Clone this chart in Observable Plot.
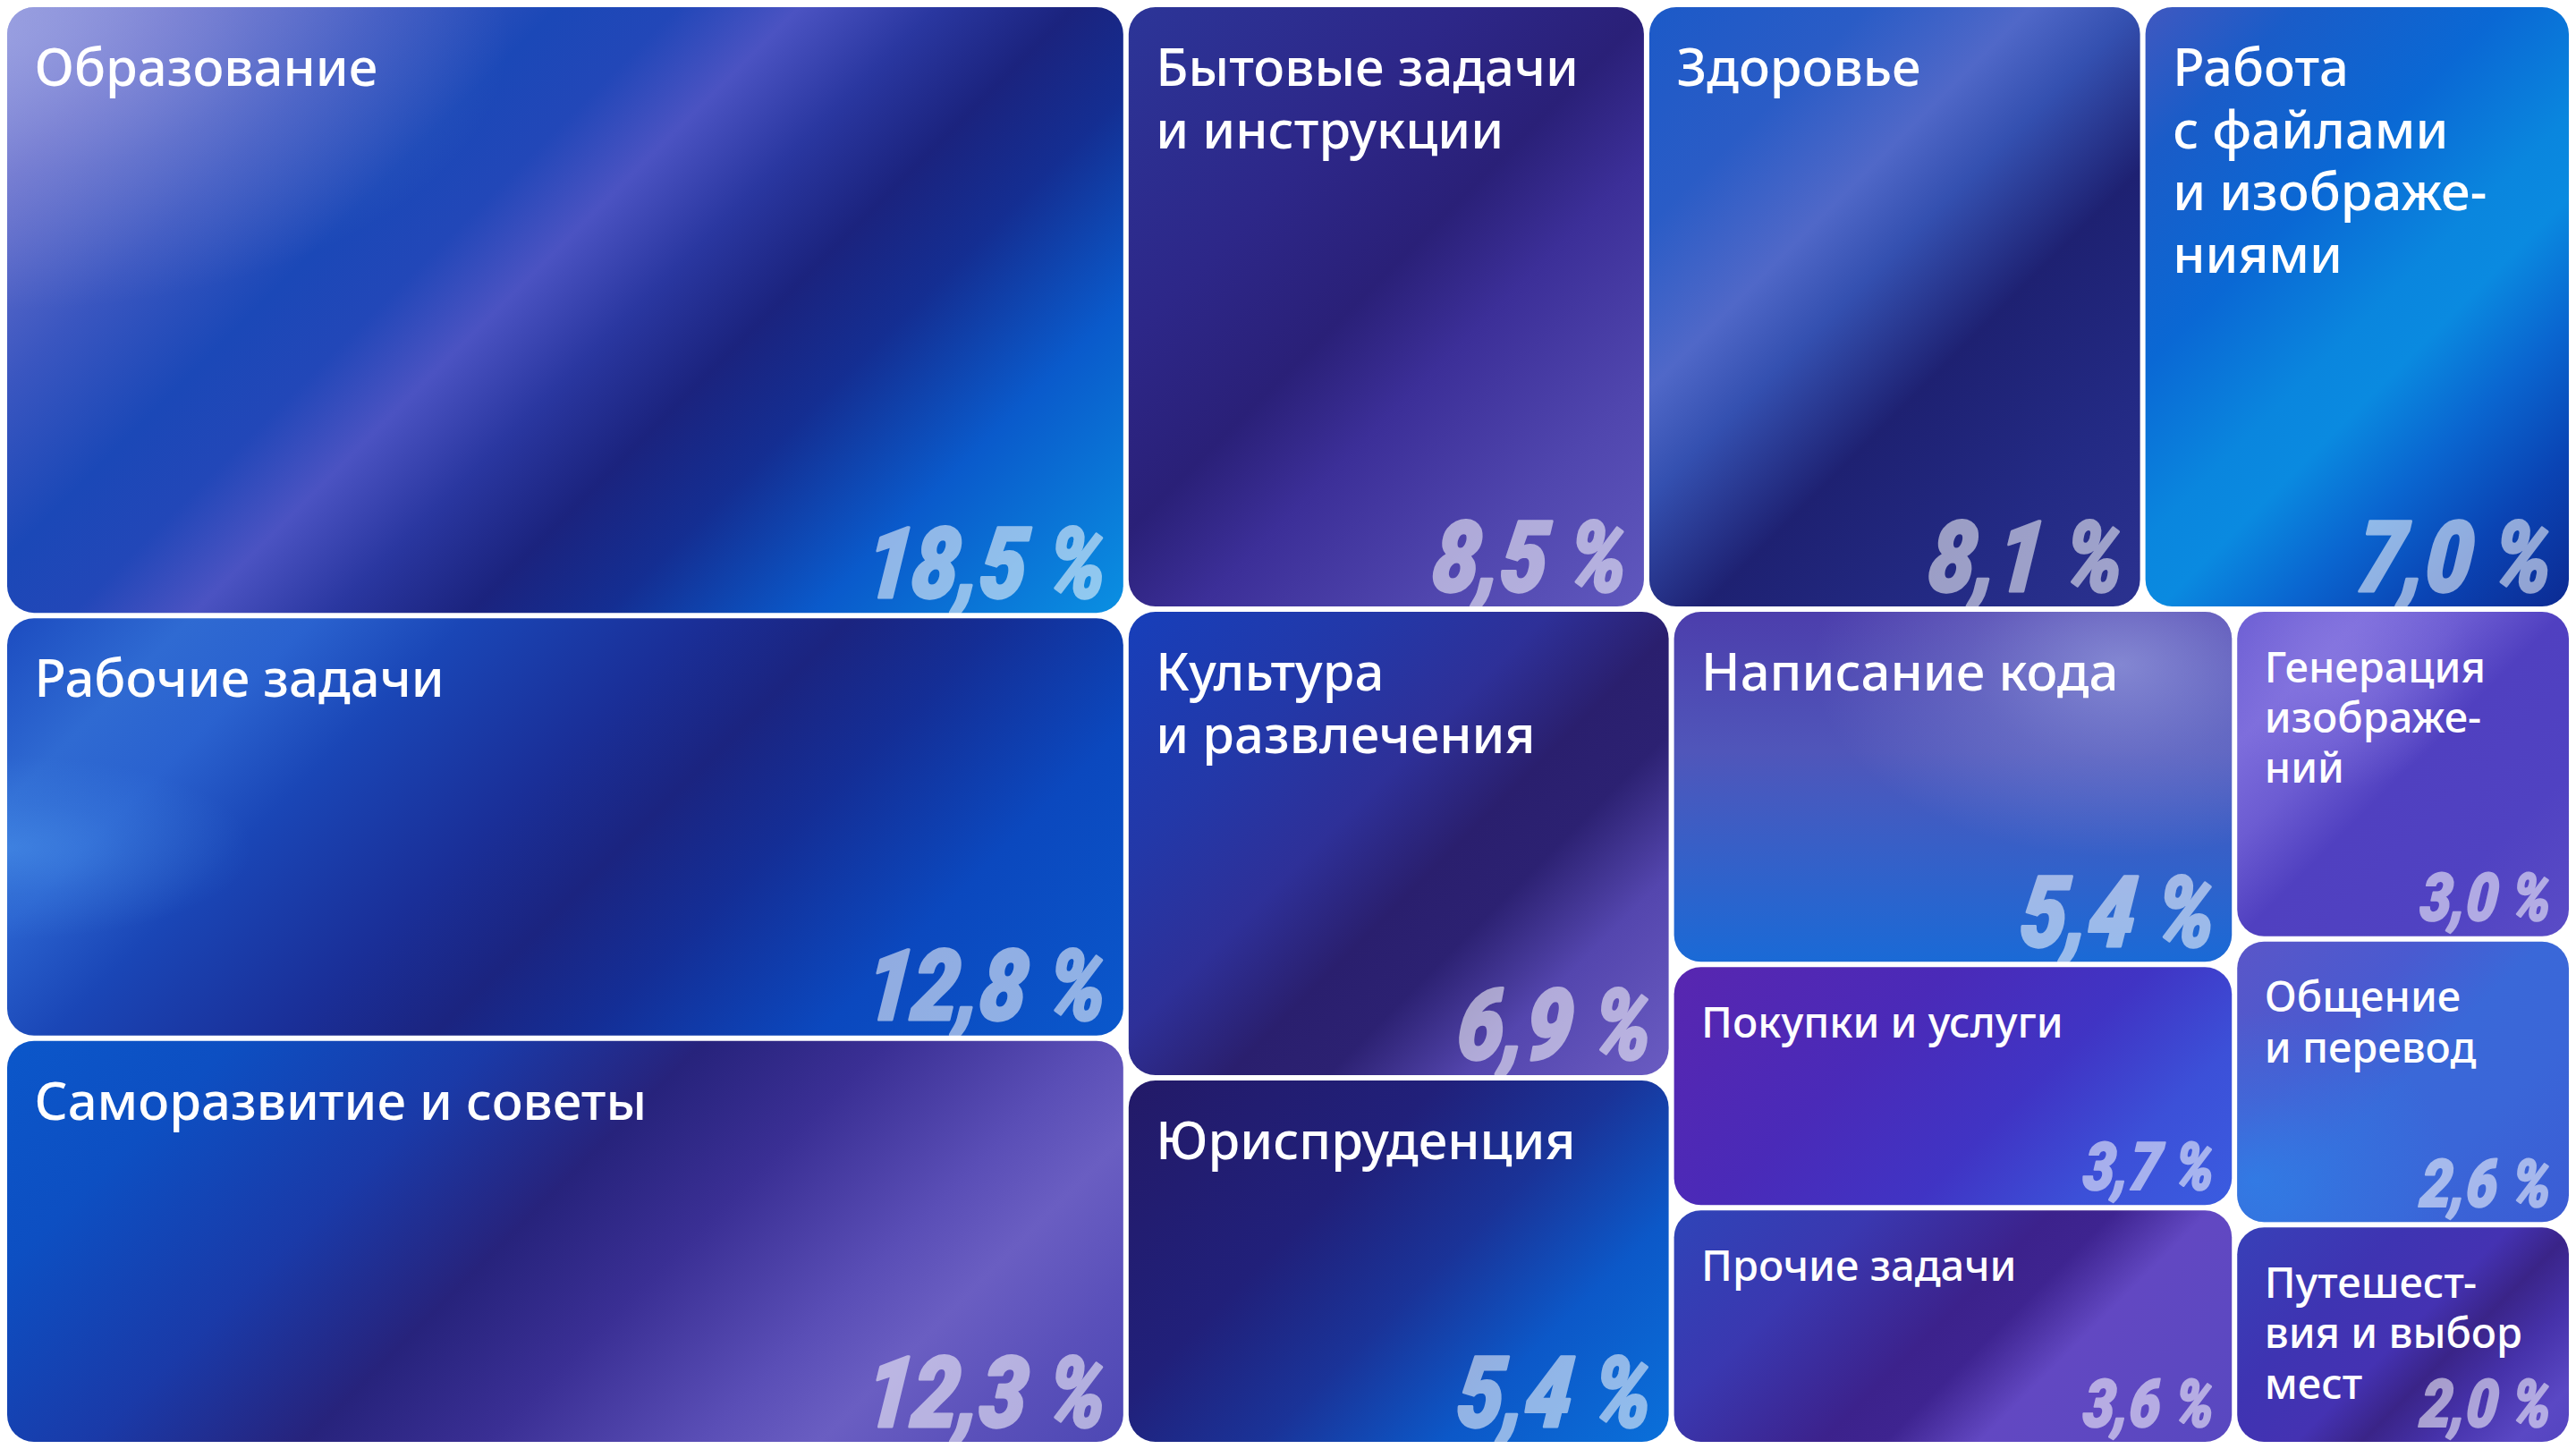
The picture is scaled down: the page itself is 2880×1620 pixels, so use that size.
<!DOCTYPE html>
<html>
<head>
<meta charset="utf-8">
<script src="https://cdn.jsdelivr.net/npm/d3@7"></script>
<script src="https://cdn.jsdelivr.net/npm/@observablehq/plot@0.6"></script>
<style>
html, body { margin: 0; padding: 0; background: #ffffff; }
#chart svg { display: block; }
</style>
</head>
<body>
<div id="chart"></div>
<script>
// ---------- DATA ----------
const categories = [
  "Образование", "Рабочие задачи", "Саморазвитие и советы",
  "Бытовые задачи и инструкции", "Здоровье", "Работа с файлами и изображениями",
  "Культура и развлечения", "Юриспруденция",
  "Написание кода", "Покупки и услуги", "Прочие задачи",
  "Генерация изображений", "Общение и перевод", "Путешествия и выбор мест"
];
const titles = [
  "Образование", "Рабочие задачи", "Саморазвитие и советы",
  "Бытовые задачи\nи инструкции", "Здоровье", "Работа\nс файлами\nи изображе-\nниями",
  "Культура\nи развлечения", "Юриспруденция",
  "Написание кода", "Покупки и услуги", "Прочие задачи",
  "Генерация\nизображе-\nний", "Общение\nи перевод", "Путешест-\nвия и выбор\nмест"
];
const shares = [18.5, 12.8, 12.3, 8.5, 8.1, 7.0, 6.9, 5.4, 5.4, 3.7, 3.6, 3.0, 2.6, 2.0];
// grouping of the tiles (hierarchy of the treemap)
const blocks = ["A", "A", "A", "B1", "B1", "B1", "B2a", "B2a", "B2b", "B2b", "B2b", "B2c", "B2c", "B2c"];
const blockParents = [["A", "root"], ["B", "root"], ["B1", "B"], ["B2", "B"], ["B2a", "B2"], ["B2b", "B2"], ["B2c", "B2"]];

// ---------- STYLES (gradients per tile) ----------
const tileStyles = [
  { stops: [[0, "#8e94da"], [0.1, "#6870cc"], [0.22, "#3a56c0"], [0.32, "#1b48b7"], [0.39, "#2247b8"], [0.46, "#4b53c2"], [0.54, "#2a37a0"], [0.62, "#1b237e"], [0.7, "#142e92"], [0.82, "#0a5acb"], [1, "#0a90e2"]],
    glow: { cx: 0.0, cy: 0.05, r: 0.45, c: "#a0a6e4", o: 0.65 } },
  { stops: [[0, "#1c4cc0"], [0.12, "#2f6ad2"], [0.2, "#2a62cf"], [0.3, "#1a46b6"], [0.45, "#1a2f98"], [0.55, "#1b2480"], [0.65, "#142e96"], [0.8, "#0b48be"], [1, "#0a58cc"]],
    glow: { cx: 0.0, cy: 0.55, r: 0.22, c: "#4a92ea", o: 0.6 } },
  { stops: [[0, "#0b57ca"], [0.15, "#0d4fc2"], [0.32, "#1a3aa8"], [0.46, "#27237c"], [0.58, "#3a2f94"], [0.72, "#5a4eb6"], [0.8, "#6a5ec2"], [0.9, "#5a50ba"], [1, "#4d48b4"]] },
  { stops: [[0, "#2c3598"], [0.3, "#2d2788"], [0.47, "#2a2078"], [0.6, "#3c2f98"], [0.8, "#5046ae"], [1, "#6058be"]] },
  { stops: [[0, "#1c5ac8"], [0.2, "#2a5cc6"], [0.35, "#5068c8"], [0.45, "#3450b0"], [0.6, "#1e2172"], [0.8, "#232a84"], [1, "#2b3290"]] },
  { stops: [[0, "#4058c0"], [0.15, "#1a5cc8"], [0.35, "#0a68d4"], [0.52, "#0a86de"], [0.6, "#0a8ae0"], [0.72, "#0a66d0"], [0.85, "#0a44b4"], [1, "#0c2a92"]] },
  { stops: [[0, "#173fba"], [0.25, "#2338a8"], [0.42, "#2e3098"], [0.56, "#2a1f6e"], [0.66, "#2c2172"], [0.8, "#5446ae"], [1, "#6a5cc2"]] },
  { stops: [[0, "#231a68"], [0.35, "#21207a"], [0.55, "#1a3398"], [0.75, "#0c58c8"], [1, "#0a70da"]] },
  { vec: [0, 1], stops: [[0, "#4c3eac"], [0.4, "#5056ba"], [0.7, "#3560c8"], [1, "#1a6ad6"]],
    glow: { cx: 0.8, cy: 0.15, r: 0.55, c: "#9aa2e0", o: 0.7 } },
  { stops: [[0, "#5826b0"], [0.35, "#4a2ab8"], [0.6, "#4034c4"], [0.8, "#3c50d8"], [1, "#3a5ce0"]] },
  { stops: [[0, "#2f44b8"], [0.25, "#3a38b0"], [0.48, "#3c228c"], [0.56, "#3e2490"], [0.68, "#6248c2"], [1, "#5848c0"]] },
  { stops: [[0, "#6a5cd2"], [0.2, "#7d6ddc"], [0.35, "#6c5cd2"], [0.5, "#5040c0"], [0.75, "#5042c2"], [1, "#5a4cc6"]],
    glow: { cx: 0.3, cy: 0.15, r: 0.4, c: "#8c7ce2", o: 0.6 } },
  { stops: [[0, "#5a56c8"], [0.3, "#4a5ad0"], [0.5, "#3a68d8"], [0.7, "#3a66d8"], [1, "#3b5cd4"]],
    glow: { cx: 0.05, cy: 0.85, r: 0.6, c: "#2c84ea", o: 0.7 } },
  { stops: [[0, "#3840b8"], [0.3, "#3e34b2"], [0.5, "#4432b2"], [0.62, "#3a2488"], [0.75, "#4632aa"], [0.9, "#5a48c4"], [1, "#5444c0"]] }
];

// ---------- LAYOUT (d3 treemap) ----------
const W = 2864, H = 1604;
const rows = [{ id: "root", parent: null }]
  .concat(blockParents.map(([id, p]) => ({ id, parent: p })))
  .concat(categories.map((c, i) => ({ id: "leaf" + i, parent: blocks[i], i })));
const root = d3.stratify().id(d => d.id).parentId(d => d.parent)(rows)
  .sum(d => (d.i != null ? shares[d.i] : 0));
d3.treemap().tile(d3.treemapSliceDice).size([W, H]).paddingInner(6).round(false)(root);

const tiles = root.leaves().map(n => ({
  i: n.data.i,
  category: categories[n.data.i],
  title: titles[n.data.i],
  share: shares[n.data.i],
  small: shares[n.data.i] < 5,
  x0: n.x0, x1: n.x1, y0: n.y0, y1: n.y1
}));

const fmtPct = v => v.toFixed(1).replace(".", ",") + " %";

const svg = Plot.plot({
  width: 2880,
  height: 1620,
  margin: 0,
  x: { domain: [0, W], range: [8, 2872], axis: null },
  y: { domain: [0, H], range: [8, 1612], axis: null },
  color: { type: "identity" },
  style: { background: "#ffffff" },
  marks: [
    Plot.rect(tiles, { x1: "x0", x2: "x1", y1: "y0", y2: "y1", fill: d => `url(#tg${d.i})`, rx: 30 }),
    Plot.rect(tiles.filter(d => tileStyles[d.i].glow), { x1: "x0", x2: "x1", y1: "y0", y2: "y1", fill: d => `url(#tr${d.i})`, rx: 30 }),
    Plot.text(tiles, {
      x: "x0", y: "y0", dx: 30, dy: 38,
      text: "title",
      textAnchor: "start", lineAnchor: "top", lineHeight: 1.2,
      fill: "white",
      fontSize: d => (d.small ? 47 : 58),
      fontFamily: "'Noto Sans', 'Open Sans', sans-serif",
      fontWeight: 500
    }),
    Plot.text(tiles, {
      x: "x1", y: "y1", dx: -22, dy: -18,
      text: d => fmtPct(d.share),
      textAnchor: "end", lineAnchor: "bottom",
      fill: "white", stroke: "white", strokeWidth: d => (d.small ? 2.2 : 3.2),
      strokeLinejoin: "round",
      opacity: 0.55,
      fontSize: d => (d.small ? 74 : 110),
      fontFamily: "Roboto, 'Liberation Sans', sans-serif",
      fontWeight: 900, fontStyle: "italic"
    })
  ]
});

// gradient definitions
const defs = d3.select(svg).insert("defs", ":first-child");
tiles.forEach(d => {
  const s = tileStyles[d.i];
  const w = d.x1 - d.x0, h = d.y1 - d.y0;
  let x2, y2;
  if (s.vec) { [x2, y2] = s.vec; }
  else { const r = h / w; const a = (1 + r) / (1 + r * r); x2 = a; y2 = a * r; }
  const lg = defs.append("linearGradient").attr("id", "tg" + d.i)
    .attr("x1", 0).attr("y1", 0).attr("x2", x2).attr("y2", y2);
  s.stops.forEach(([o, c]) => lg.append("stop").attr("offset", o).attr("stop-color", c));
  if (s.glow) {
    const g = s.glow;
    const rg = defs.append("radialGradient").attr("id", "tr" + d.i)
      .attr("cx", g.cx).attr("cy", g.cy).attr("r", g.r);
    rg.append("stop").attr("offset", 0).attr("stop-color", g.c).attr("stop-opacity", g.o);
    rg.append("stop").attr("offset", 0.5).attr("stop-color", g.c).attr("stop-opacity", g.o * 0.4);
    rg.append("stop").attr("offset", 1).attr("stop-color", g.c).attr("stop-opacity", 0);
  }
});

// condensed, steeper italic look for the percentage labels
svg.querySelectorAll("text").forEach(t => {
  if (!/%\s*$/.test(t.textContent)) return;
  let tr = t.getAttribute("transform");
  if (!tr) {
    const x = parseFloat(t.getAttribute("x")) || 0;
    const y = parseFloat(t.getAttribute("y")) || 0;
    t.removeAttribute("x");
    t.removeAttribute("y");
    tr = `translate(${x},${y})`;
  }
  t.setAttribute("transform", tr + " scale(0.84,1) skewX(-7)");
  t.setAttribute("opacity", 0.55);
});

document.getElementById("chart").appendChild(svg);
</script>
</body>
</html>
